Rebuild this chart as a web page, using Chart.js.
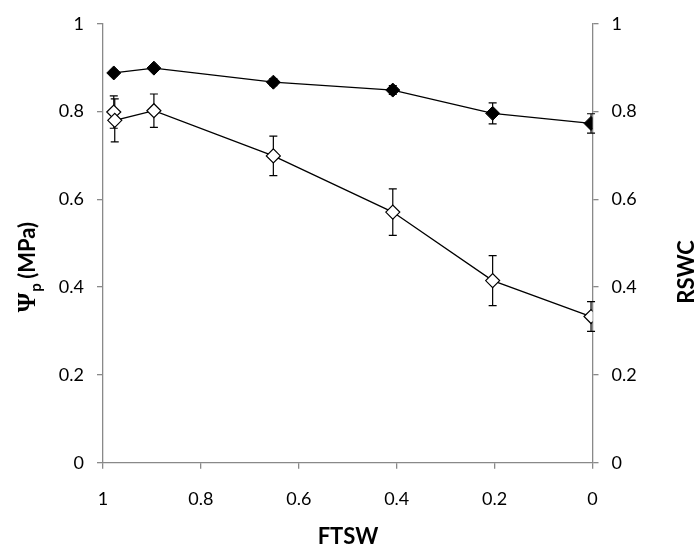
<!DOCTYPE html>
<html>
<head>
<meta charset="utf-8">
<script src="https://cdn.jsdelivr.net/npm/chart.js@4/dist/chart.umd.min.js"></script>
<style>
  body { margin: 0; background: #fff; }
</style>
</head>
<body>
<canvas id="chart" width="699" height="550"></canvas>
<script>
// FTSW (x) values
const ftswOpen = [0.978, 0.976, 0.896, 0.652, 0.408, 0.204, 0.003];
const psiP = [0.799, 0.780, 0.802, 0.699, 0.571, 0.415, 0.333];
const psiErr = [0.037, 0.049, 0.038, 0.045, 0.053, 0.057, 0.034];

const ftswFilled = [0.978, 0.896, 0.652, 0.408, 0.204, 0.003];
const rswc = [0.888, 0.899, 0.867, 0.849, 0.796, 0.773];
const rswcErr = [0.006, 0.005, 0.008, 0.010, 0.024, 0.022];

const tickValues = [0, 0.2, 0.4, 0.6, 0.8, 1];

const axisGrey = "#898989";
const labelFont = { family: "Lato", size: 18 };

function toPoints(xs, ys) {
  return xs.map((x, i) => ({ x: x, y: ys[i] }));
}

// vertical error bars with caps, drawn under the markers
const errorBars = {
  id: "errorBars",
  beforeDatasetsDraw(chart) {
    const ctx = chart.ctx;
    const xs = chart.scales.x;
    chart.data.datasets.forEach((ds) => {
      const ys = chart.scales[ds.yAxisID];
      ctx.save();
      ctx.strokeStyle = "#000";
      ctx.lineWidth = 1.2;
      ds.data.forEach((p, i) => {
        const e = ds.errors[i];
        const px = xs.getPixelForValue(p.x);
        const top = ys.getPixelForValue(p.y + e);
        const bot = ys.getPixelForValue(p.y - e);
        ctx.beginPath();
        ctx.moveTo(px, top);
        ctx.lineTo(px, bot);
        ctx.moveTo(px - 4, top);
        ctx.lineTo(px + 4, top);
        ctx.moveTo(px - 4, bot);
        ctx.lineTo(px + 4, bot);
        ctx.stroke();
      });
      ctx.restore();
    });
  },
};

// axis titles (left one needs a subscript)
const axisTitles = {
  id: "axisTitles",
  afterDraw(chart) {
    const ctx = chart.ctx;
    ctx.save();
    ctx.fillStyle = "#000";
    ctx.textBaseline = "alphabetic";

    // left: Ψp (MPa)
    ctx.save();
    ctx.translate(35, 267);
    ctx.rotate(-Math.PI / 2);
    const f1 = "bold 25px 'Liberation Serif'";
    const f2 = "bold 15px Lato";
    const f3 = "bold 22px Lato";
    ctx.font = f1;
    const w1 = ctx.measureText("Ψ").width;
    ctx.font = f2;
    const w2 = ctx.measureText("p").width;
    ctx.font = f3;
    const w3 = ctx.measureText(" (MPa)").width;
    let x0 = -(w1 + w2 + w3) / 2;
    ctx.font = f1;
    ctx.fillText("Ψ", x0, 0);
    ctx.font = f2;
    ctx.fillText("p", x0 + w1 + 1, 6);
    ctx.font = f3;
    ctx.fillText(" (MPa)", x0 + w1 + w2, 0);
    ctx.restore();

    // right: RSWC
    ctx.save();
    ctx.translate(694, 272);
    ctx.rotate(-Math.PI / 2);
    ctx.font = "bold 22px Lato";
    ctx.textAlign = "center";
    ctx.fillText("RSWC", 0, 0);
    ctx.restore();

    // bottom: FTSW
    ctx.font = "bold 22px Lato";
    ctx.textAlign = "center";
    ctx.fillText("FTSW", 348, 544);
    ctx.restore();
  },
};

function yAxis(position, width) {
  return {
    type: "linear",
    position: position,
    min: 0,
    max: 1,
    afterFit: (s) => { s.width = width; },
    afterBuildTicks: (s) => { s.ticks = tickValues.map((v) => ({ value: v })); },
    border: { display: true, color: axisGrey, width: 1.3 },
    grid: { drawOnChartArea: false, drawTicks: true, tickLength: 6, color: axisGrey, lineWidth: 1.3 },
    ticks: { color: "#000", font: labelFont, padding: 13, callback: (v) => String(+v.toFixed(1)) },
  };
}

new Chart(document.getElementById("chart"), {
  type: "scatter",
  data: {
    datasets: [
      {
        label: "RSWC",
        data: toPoints(ftswFilled, rswc),
        errors: rswcErr,
        yAxisID: "y2",
        showLine: true,
        borderColor: "#000",
        borderWidth: 1.3,
        pointStyle: "rectRot",
        pointRadius: 7,
        pointBackgroundColor: "#000",
        pointBorderColor: "#000",
        pointBorderWidth: 1,
      },
      {
        label: "Psi p",
        data: toPoints(ftswOpen, psiP),
        errors: psiErr,
        yAxisID: "y",
        showLine: true,
        borderColor: "#000",
        borderWidth: 1.3,
        pointStyle: "rectRot",
        pointRadius: 7,
        pointBackgroundColor: "#fff",
        pointBorderColor: "#000",
        pointBorderWidth: 1.2,
      },
    ],
  },
  options: {
    responsive: false,
    animation: false,
    devicePixelRatio: 1,
    layout: { padding: { top: 13, left: 0, right: 0, bottom: 0 } },
    plugins: {
      legend: { display: false },
      tooltip: { enabled: false },
    },
    scales: {
      x: {
        type: "linear",
        reverse: true,
        min: 0,
        max: 1,
        afterFit: (s) => { s.height = 87.3; },
        afterBuildTicks: (s) => { s.ticks = tickValues.map((v) => ({ value: v })); },
        border: { display: true, color: axisGrey, width: 1.3 },
        grid: { drawOnChartArea: false, drawTicks: true, tickLength: 6, color: axisGrey, lineWidth: 1.3 },
        ticks: { color: "#000", font: labelFont, padding: 20, maxRotation: 0, callback: (v) => String(+v.toFixed(1)) },
      },
      y: yAxis("left", 103),
      y2: yAxis("right", 106.5),
    },
  },
  plugins: [errorBars, axisTitles],
});
</script>
</body>
</html>
